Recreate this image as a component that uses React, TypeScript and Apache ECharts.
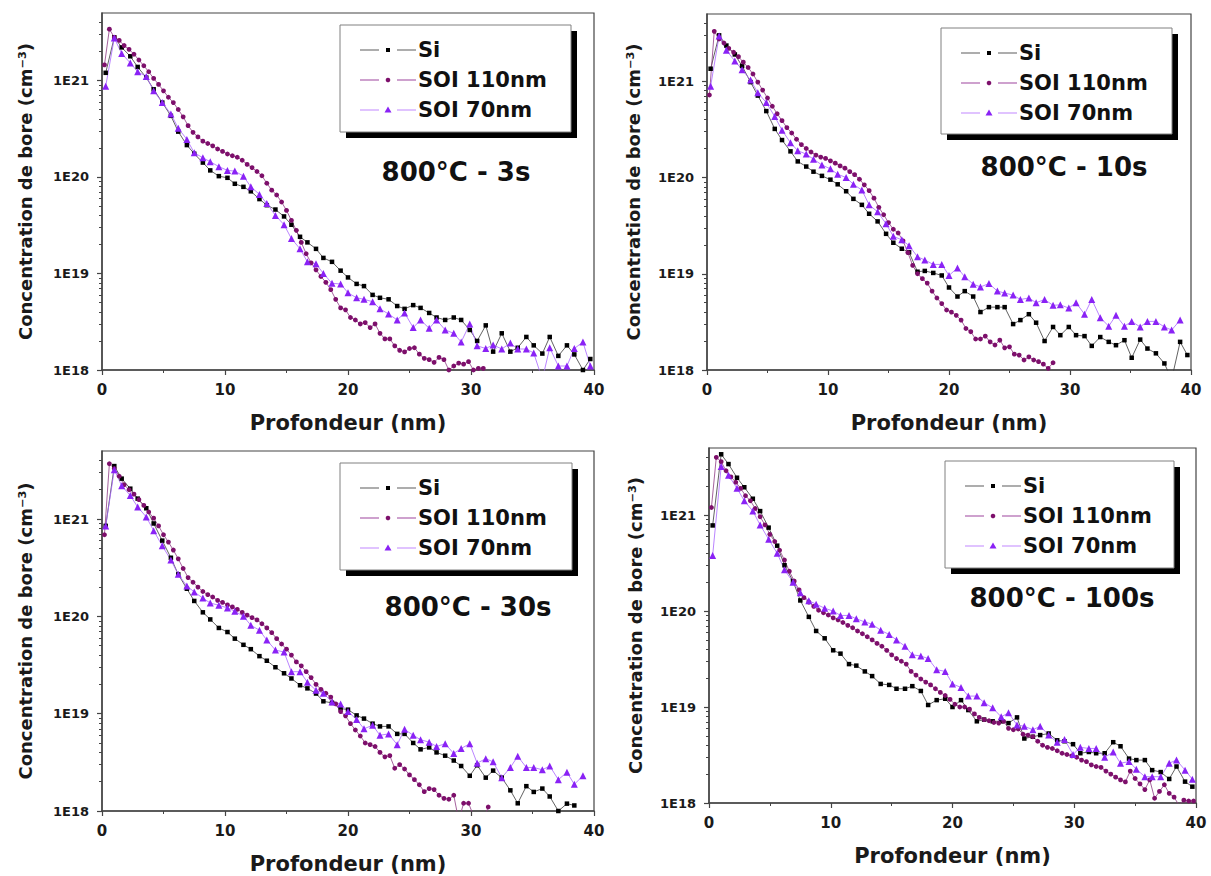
import React, { useEffect, useRef } from 'react';
import * as echarts from 'echarts';

// Depth grids (nm)
const depthA = [0.3,1.0,1.6,2.3,2.9,3.6,4.2,4.9,5.6,6.2,6.9,7.5,8.2,8.8,9.5,10.2,10.8,11.5,12.1,12.8,13.4,14.1,14.8,15.4,16.1,16.7,17.4,18.0,18.7,19.4,20.0,20.7,21.3,22.0,22.6,23.3,24.0,24.6,25.3,25.9,26.6,27.2,27.9,28.6,29.2,29.9,30.5,31.2,31.8,32.5,33.2,33.8,34.5,35.1,35.8,36.4,37.1,37.8,38.4,39.1,39.7];
const depthB = [0.2,0.6,1,1.4,1.8,2.2,2.6,3,3.4,3.8,4.2,4.6,5,5.4,5.8,6.2,6.6,7,7.4,7.8,8.2,8.6,9,9.4,9.8,10.2,10.6,11,11.4,11.8,12.2,12.6,13,13.4,13.8,14.2,14.6,15,15.4,15.8,16.2,16.6,17,17.4,17.8,18.2,18.6,19,19.4,19.8,20.2,20.6,21,21.4,21.8,22.2,22.6,23,23.4,23.8,24.2,24.6,25,25.4,25.8,26.2,26.6,27,27.4,27.8,28.2,28.6,29,29.4,29.8,30.2,30.6,31,31.4,31.8,32.2,32.6,33,33.4,33.8,34.2,34.6,35,35.4,35.8,36.2,36.6,37,37.4,37.8,38.2,38.6,39,39.4,39.8];

// 800°C - 3s
const p1Si = [1.2e21,2.8e21,2.2e21,1.78e21,1.38e21,1.07e21,8.1e20,5.9e20,4.3e20,2.95e20,2.14e20,1.74e20,1.41e20,1.17e20,1.02e20,9.8e19,8.5e19,7.9e19,7.1e19,5.9e19,5.1e19,4.6e19,3.9e19,3.2e19,2.4e19,2.1e19,1.8e19,1.45e19,1.32e19,1.07e19,9.1e18,7.8e18,7.4e18,6.0e18,5.6e18,5.4e18,4.6e18,4.3e18,4.7e18,4.4e18,3.9e18,3.5e18,3.3e18,3.5e18,3.3e18,2.6e18,2.0e18,2.9e18,1.55e18,2.4e18,1.55e18,1.7e18,2.2e18,1.8e18,1.48e18,2.2e18,1.4e18,1.8e18,1.45e18,1.0e18,1.3e18];
const p1S110 = [1.45e21,3.4e21,2.8e21,2.6e21,2.3e21,2.1e21,1.87e21,1.63e21,1.42e21,1.23e21,1.05e21,9.1e20,7.8e20,6.7e20,5.9e20,5.0e20,4.2e20,3.4e20,2.9e20,2.6e20,2.35e20,2.22e20,2.1e20,1.95e20,1.84e20,1.73e20,1.66e20,1.6e20,1.49e20,1.35e20,1.25e20,1.14e20,1.03e20,8.6e19,7.3e19,6.5e19,5.5e19,4.5e19,3.55e19,2.8e19,2.1e19,1.6e19,1.29e19,1.09e19,9.3e18,8.1e18,6.8e18,5.4e18,4.4e18,4.2e18,3.5e18,3.3e18,3.0e18,3.1e18,2.75e18,3.0e18,2.4e18,2.1e18,2.1e18,1.78e18,1.6e18,1.54e18,1.67e18,1.7e18,1.46e18,1.32e18,1.28e18,1.2e18,1.35e18,1.28e18,1.0e18,1.1e18,1.18e18,1.15e18,1.22e18,1.0e18,1.04e18,1.04e18];
const p1S70 = [8.7e20,2.75e21,1.9e21,1.52e21,1.23e21,1.1e21,7.8e20,5.9e20,4.5e20,3.2e20,2.45e20,1.78e20,1.58e20,1.44e20,1.28e20,1.17e20,1.15e20,1.02e20,7.9e19,6.6e19,5.3e19,4.0e19,3.2e19,2.3e19,1.8e19,1.32e19,1.26e19,1.0e19,7.9e18,7.8e18,6.3e18,5.6e18,5.4e18,5.1e18,4.3e18,3.8e18,3.3e18,3.9e18,2.75e18,3.3e18,2.7e18,3.3e18,2.6e18,2.4e18,1.95e18,3.0e18,1.78e18,1.67e18,1.82e18,1.65e18,1.9e18,1.65e18,1.65e18,1.5e18,8e17,1.7e18,1.1e18,1.1e18,1.67e18,1.95e18,1.1e18];

// 800°C - 10s
const p2Si = [1.35e21,3.0e21,2.35e21,1.9e21,1.44e21,9.8e20,7.1e20,4.9e20,3.2e20,2.45e20,1.87e20,1.47e20,1.3e20,1.15e20,1.04e20,9.5e19,8.5e19,7.2e19,6.0e19,5.2e19,4.2e19,3.5e19,2.6e19,2.1e19,1.82e19,1.67e19,1.05e19,1.07e19,1.02e19,9.6e18,7.2e18,5.8e18,6.6e18,5.8e18,4.0e18,4.5e18,4.5e18,4.5e18,3.0e18,3.3e18,3.8e18,3.1e18,2.0e18,2.8e18,2.3e18,2.8e18,2.3e18,2.25e18,1.78e18,2.2e18,1.96e18,1.81e18,2.04e18,1.34e18,2.07e18,1.67e18,1.49e18,1.17e18,8e17,1.96e18,1.43e18];
const p2S110 = [7.2e20,3.3e21,2.75e21,2.5e21,2.2e21,2.0e21,1.8e21,1.58e21,1.39e21,1.19e21,9.8e20,8.1e20,6.7e20,5.5e20,4.6e20,3.9e20,3.3e20,2.9e20,2.5e20,2.2e20,2.0e20,1.84e20,1.71e20,1.63e20,1.58e20,1.49e20,1.41e20,1.32e20,1.25e20,1.15e20,1.07e20,9.6e19,8.4e19,7.3e19,6.1e19,4.9e19,4.1e19,3.4e19,2.9e19,2.65e19,2.2e19,1.66e19,1.22e19,1.0e19,8.9e18,8.0e18,6.6e18,5.6e18,4.9e18,4.2e18,4.0e18,3.7e18,3.3e18,2.7e18,2.5e18,2.1e18,2.1e18,2.25e18,1.96e18,1.82e18,2.04e18,1.7e18,1.74e18,1.46e18,1.43e18,1.27e18,1.37e18,1.27e18,1.22e18,1.15e18,1.04e18,1.19e18];
const p2S70 = [8.9e20,2.95e21,2.1e21,1.62e21,1.32e21,1.03e21,7.6e20,6.0e20,4.3e20,3.1e20,2.3e20,1.9e20,1.75e20,1.55e20,1.35e20,1.23e20,1.08e20,1.0e20,8.5e19,7.4e19,5.2e19,4.4e19,3.3e19,2.45e19,2.25e19,1.96e19,1.5e19,1.39e19,1.25e19,1.25e19,9.6e18,1.15e19,9.3e18,7.8e18,7.3e18,7.9e18,6.6e18,6.3e18,6.0e18,5.4e18,5.6e18,5.0e18,5.4e18,4.7e18,4.75e18,4.4e18,5.0e18,3.8e18,5.4e18,3.5e18,2.85e18,3.7e18,2.85e18,3.2e18,2.8e18,3.2e18,3.2e18,2.8e18,2.6e18,3.3e18];

// 800°C - 30s
const p3Si = [8.5e20,3.5e21,2.6e21,2.05e21,1.62e21,1.29e21,9.0e20,6.0e20,4.0e20,2.7e20,1.92e20,1.44e20,1.1e20,9.3e19,7.6e19,6.9e19,5.9e19,5.1e19,4.6e19,3.9e19,3.5e19,3.0e19,2.6e19,2.3e19,1.96e19,1.82e19,1.61e19,1.34e19,1.29e19,1.13e19,1.1e19,9.6e18,8.9e18,7.9e18,7.4e18,7.4e18,6.2e18,6.2e18,5.0e18,4.3e18,4.5e18,4.0e18,3.7e18,3.3e18,2.9e18,2.3e18,2.95e18,2.2e18,2.6e18,2.2e18,1.63e18,1.2e18,1.8e18,1.57e18,1.7e18,1.41e18,1.0e18,1.19e18,1.14e18];
const p3S110 = [6.9e20,3.7e21,3.3e21,2.75e21,2.25e21,2.0e21,1.8e21,1.58e21,1.38e21,1.18e21,1.02e21,8.5e20,6.9e20,5.8e20,4.8e20,3.9e20,3.1e20,2.5e20,2.24e20,2.0e20,1.8e20,1.67e20,1.58e20,1.46e20,1.39e20,1.31e20,1.25e20,1.18e20,1.1e20,1.03e20,9.7e19,9.2e19,8.4e19,7.6e19,6.8e19,5.9e19,5.2e19,4.6e19,4.0e19,3.4e19,3.1e19,2.7e19,2.35e19,2.0e19,1.78e19,1.62e19,1.48e19,1.26e19,1.05e19,9.5e18,7.9e18,6.8e18,5.9e18,5.0e18,4.8e18,4.6e18,4.0e18,3.6e18,3.7e18,2.75e18,3.0e18,2.7e18,2.35e18,2.1e18,1.86e18,1.58e18,1.7e18,1.66e18,1.45e18,1.35e18,1.32e18,1.45e18,8e17,1.2e18,1.2e18,9e17,8e17,8e17,1.1e18];
const p3S70 = [8.5e20,3.2e21,2.2e21,1.74e21,1.33e21,1.05e21,7.6e20,5.3e20,3.8e20,2.7e20,2.05e20,1.78e20,1.54e20,1.37e20,1.3e20,1.22e20,1.13e20,1.0e20,8.1e19,7.2e19,5.7e19,4.5e19,4.3e19,2.7e19,2.7e19,2.1e19,1.74e19,1.62e19,1.32e19,1.26e19,1.05e19,8.7e18,7.0e18,7.6e18,6.0e18,6.2e18,4.8e18,6.9e18,6.0e18,5.4e18,5.1e18,4.6e18,4.9e18,3.9e18,4.4e18,4.9e18,3.1e18,3.45e18,3.2e18,2.2e18,2.8e18,3.65e18,2.8e18,2.8e18,2.65e18,2.9e18,2.1e18,2.5e18,1.88e18,2.3e18];

// 800°C - 100s
const p4Si = [7.8e20,4.3e21,3.4e21,2.45e21,1.95e21,1.48e21,1.1e21,7.4e20,4.8e20,3.0e20,2.05e20,1.29e20,8.7e19,6.2e19,5.2e19,3.9e19,3.6e19,2.8e19,2.7e19,2.35e19,2.1e19,1.74e19,1.7e19,1.55e19,1.55e19,1.65e19,1.47e19,1.05e19,1.18e19,1.22e19,1.0e19,1.18e19,9.3e18,7.1e18,7.4e18,7.1e18,7.1e18,6.8e18,7.8e18,4.7e18,4.9e18,5.1e18,5.3e18,4.5e18,4.4e18,4.1e18,3.3e18,3.4e18,3.3e18,3.3e18,4.3e18,3.9e18,2.9e18,2.8e18,2.8e18,2.2e18,2.1e18,1.78e18,2.4e18,1.67e18,1.48e18];
const p4S110 = [1.2e21,4.0e21,3.6e21,2.9e21,2.5e21,2.2e21,1.9e21,1.59e21,1.41e21,1.17e21,9.6e20,7.9e20,6.3e20,5.3e20,4.3e20,3.4e20,2.6e20,2.05e20,1.66e20,1.38e20,1.24e20,1.12e20,1.02e20,9.6e19,9.1e19,8.5e19,8.1e19,7.6e19,7.1e19,6.7e19,6.2e19,5.8e19,5.4e19,5.0e19,4.6e19,4.3e19,3.9e19,3.5e19,3.2e19,3.0e19,2.8e19,2.35e19,2.15e19,1.96e19,1.82e19,1.7e19,1.55e19,1.42e19,1.32e19,1.2e19,1.07e19,1.0e19,1.0e19,9.5e18,8.5e18,7.8e18,7.4e18,7.2e18,6.9e18,6.8e18,7.1e18,6.0e18,5.8e18,5.9e18,5.2e18,5.1e18,4.9e18,4.4e18,4.0e18,3.8e18,3.7e18,3.5e18,3.3e18,3.2e18,3.1e18,3.0e18,2.8e18,2.7e18,2.5e18,2.4e18,2.35e18,2.15e18,2.0e18,1.86e18,1.74e18,1.66e18,2.15e18,1.8e18,1.58e18,1.38e18,1.74e18,1.12e18,1.32e18,1.55e18,1.26e18,1.15e18,9.5e17,1.07e18,1.05e18,1.05e18];
const p4S70 = [3.8e20,3.2e21,2.6e21,1.9e21,1.41e21,1.1e21,7.9e20,5.6e20,4.0e20,2.7e20,2.0e20,1.55e20,1.28e20,1.18e20,1.07e20,1.0e20,9.0e19,9.0e19,8.3e19,7.7e19,7.3e19,6.3e19,5.7e19,5.0e19,4.3e19,3.5e19,3.4e19,3.2e19,2.45e19,2.35e19,1.74e19,1.6e19,1.3e19,1.3e19,1.11e19,9.8e18,7.9e18,8.7e18,6.5e18,6.3e18,5.8e18,6.3e18,5.1e18,4.3e18,4.6e18,3.2e18,3.8e18,3.7e18,3.7e18,3.0e18,3.4e18,2.6e18,2.7e18,2.25e18,1.88e18,1.88e18,1.88e18,2.6e18,2.8e18,2.2e18,1.77e18];

const seriesNames = ['Si', 'SOI 110nm', 'SOI 70nm'];
const panelTitles = ['800°C - 3s', '800°C - 10s', '800°C - 30s', '800°C - 100s'];
const panelData = [
  [p1Si, p1S110, p1S70],
  [p2Si, p2S110, p2S70],
  [p3Si, p3S110, p3S70],
  [p4Si, p4S110, p4S70],
];
const yMajor = [1e18, 1e19, 1e20, 1e21];
const yMinor = [2e18,3e18,4e18,5e18,6e18,7e18,8e18,9e18,2e19,3e19,4e19,5e19,6e19,7e19,8e19,9e19,2e20,3e20,4e20,5e20,6e20,7e20,8e20,9e20,2e21,3e21,4e21];
const xName = 'Profondeur (nm)';
const yName = 'Concentration de bore (cm⁻³)';

// layout (pixels)
const layouts = [
  { left: 102, top: 13, width: 492, height: 357, nameGap: 68, legend: { x: 340, y: 25, w: 231, h: 107 }, annot: { x: 456, y: 172 } },
  { left: 707, top: 14, width: 484, height: 356, nameGap: 65, legend: { x: 941, y: 28, w: 231, h: 106 }, annot: { x: 1064, y: 167 } },
  { left: 102, top: 451, width: 492, height: 360, nameGap: 68, legend: { x: 340, y: 463, w: 232, h: 107 }, annot: { x: 468, y: 607 } },
  { left: 709, top: 448, width: 487, height: 355, nameGap: 65, legend: { x: 945, y: 461, w: 229, h: 107 }, annot: { x: 1062, y: 598 } },
];

const FONT = 'DejaVu Sans';
const AX = '#444';
const markerColors = ['#000000', '#7d0f6b', '#8a22f5'];
const lineColors = ['#3a3a3a', '#8e3a84', '#a865ff'];
const legendLineColors = ['#808080', '#b46eb4', '#cfa3ff'];
const symbols = ['rect', 'circle', 'triangle'];
const symbolSizes = [4.5, 4.8, 7];
const rowOffsets = [25, 55, 85];

function yLabel(v: number) {
  const e = v < 100 ? Math.round(v) : Math.round(Math.log10(v));
  return '1E' + e;
}

function buildOption() {
  const grid = layouts.map((l) => ({
    left: l.left, top: l.top, width: l.width, height: l.height,
    show: true, borderColor: AX, borderWidth: 1.2, backgroundColor: 'transparent',
  }));
  const xAxis = layouts.map((l, i) => ({
    type: 'value', gridIndex: i, min: 0, max: 40, interval: 10,
    axisLine: { show: true, lineStyle: { color: AX, width: 1.5 } },
    axisTick: { show: true, length: 5, lineStyle: { color: AX, width: 1.2 } },
    minorTick: { show: true, splitNumber: 2, length: 3, lineStyle: { color: AX, width: 1 } },
    splitLine: { show: false },
    axisLabel: { fontFamily: FONT, fontWeight: 'bold', fontSize: 15, color: '#1a1a1a', margin: 12 },
    name: xName, nameLocation: 'middle', nameGap: 42,
    nameTextStyle: { fontFamily: FONT, fontWeight: 'bold', fontSize: 21, color: '#1a1a1a' },
  }));
  const yMain = layouts.map((l, i) => ({
    type: 'log', logBase: 10, gridIndex: i, min: 1e18, max: 5e21, position: 'left',
    axisLine: { show: true, lineStyle: { color: AX, width: 1.5 } },
    axisTick: { show: true, length: 5, customValues: yMajor, lineStyle: { color: AX, width: 1.2 } },
    axisLabel: {
      customValues: yMajor, formatter: yLabel, fontFamily: FONT, fontWeight: 'bold', fontSize: 13,
      color: '#1a1a1a', margin: 13,
    },
    splitLine: { show: false },
    name: yName, nameLocation: 'middle', nameGap: l.nameGap, nameRotate: 90,
    nameTextStyle: { fontFamily: FONT, fontWeight: 'bold', fontSize: 18, color: '#1a1a1a' },
  }));
  const yMin = layouts.map((l, i) => ({
    type: 'log', logBase: 10, gridIndex: i, min: 1e18, max: 5e21, position: 'left',
    axisLine: { show: false }, axisLabel: { show: false }, splitLine: { show: false },
    axisTick: { show: true, length: 3, customValues: yMinor, lineStyle: { color: AX, width: 1 } },
  }));

  const series: any[] = [];
  panelData.forEach((sets, p) => {
    sets.forEach((vals, s) => {
      const depth = s === 1 ? depthB : depthA;
      series.push({
        type: 'line', name: seriesNames[s] + ' ' + (p + 1),
        xAxisIndex: p, yAxisIndex: p,
        data: vals.map((v, i) => [depth[i], v]),
        symbol: symbols[s], symbolSize: symbolSizes[s], showSymbol: true,
        itemStyle: { color: markerColors[s] },
        lineStyle: { color: lineColors[s], width: 0.8 },
        clip: true, silent: true,
      });
    });
  });

  const graphic: any[] = [];
  layouts.forEach((l, p) => {
    const b = l.legend;
    graphic.push({ type: 'rect', z: 100, shape: { x: b.x + 6, y: b.y + 6, width: b.w, height: b.h }, style: { fill: '#000' } });
    graphic.push({ type: 'rect', z: 101, shape: { x: b.x, y: b.y, width: b.w, height: b.h }, style: { fill: '#fff', stroke: '#808080', lineWidth: 1 } });
    seriesNames.forEach((name, s) => {
      const cy = b.y + rowOffsets[s];
      graphic.push({ type: 'line', z: 102, shape: { x1: b.x + 20, y1: cy, x2: b.x + 39, y2: cy }, style: { stroke: legendLineColors[s], lineWidth: 1.3 } });
      graphic.push({ type: 'line', z: 102, shape: { x1: b.x + 57, y1: cy, x2: b.x + 76, y2: cy }, style: { stroke: legendLineColors[s], lineWidth: 1.3 } });
      const mx = b.x + 48;
      if (s === 0) {
        graphic.push({ type: 'rect', z: 103, shape: { x: mx - 2, y: cy - 2, width: 4, height: 4 }, style: { fill: markerColors[0] } });
      } else if (s === 1) {
        graphic.push({ type: 'circle', z: 103, shape: { cx: mx, cy, r: 2.3 }, style: { fill: markerColors[1] } });
      } else {
        graphic.push({ type: 'polygon', z: 103, shape: { points: [[mx, cy - 3.5], [mx + 3.5, cy + 2.5], [mx - 3.5, cy + 2.5]] }, style: { fill: markerColors[2] } });
      }
      graphic.push({
        type: 'text', z: 103, x: b.x + 78, y: cy,
        style: { text: name, fill: '#111', fontFamily: FONT, fontWeight: 'bold', fontSize: 21, align: 'left', verticalAlign: 'middle' },
      });
    });
    graphic.push({
      type: 'text', z: 103, x: l.annot.x, y: l.annot.y,
      style: { text: panelTitles[p], fill: '#111', fontFamily: FONT, fontWeight: 'bold', fontSize: 26, align: 'center', verticalAlign: 'middle' },
    });
  });

  return {
    animation: false,
    backgroundColor: '#ffffff',
    grid,
    xAxis,
    yAxis: [...yMain, ...yMin],
    series,
    graphic,
  };
}

export default function App() {
  const ref = useRef<HTMLDivElement>(null);
  useEffect(() => {
    document.body.style.margin = '0';
    if (!ref.current) return;
    const chart = echarts.init(ref.current, undefined, { renderer: 'svg' });
    chart.setOption(buildOption() as any);
    return () => chart.dispose();
  }, []);
  return <div ref={ref} style={{ width: 1211, height: 876 }} />;
}
